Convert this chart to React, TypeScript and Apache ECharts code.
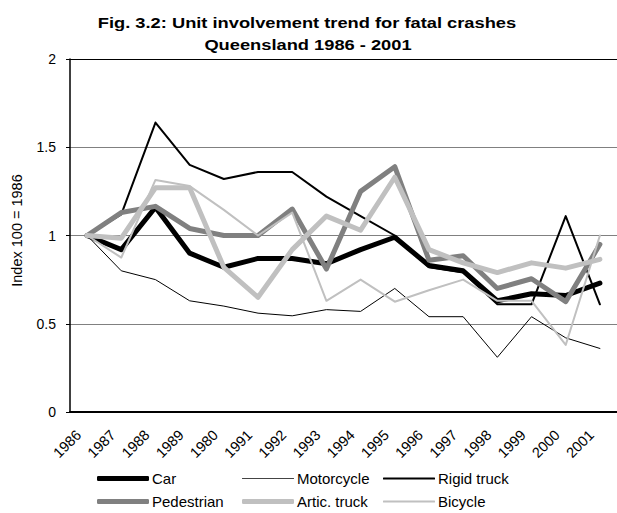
import React, { useEffect, useRef } from "react";
import * as echarts from "echarts";

const years = ["1986","1987","1988","1989","1980","1991","1992","1993","1994","1995","1996","1997","1998","1999","2000","2001"];
const car =        [1, 0.92, 1.16, 0.90, 0.82, 0.87, 0.87, 0.84, 0.92, 0.99, 0.83, 0.80, 0.63, 0.67, 0.66, 0.73];
const motorcycle = [1, 0.80, 0.75, 0.63, 0.60, 0.56, 0.545, 0.58, 0.57, 0.70, 0.54, 0.54, 0.31, 0.54, 0.42, 0.36];
const rigidTruck = [1, 1.12, 1.64, 1.40, 1.32, 1.36, 1.36, 1.22, 1.11, 1.00, 0.82, 0.79, 0.61, 0.61, 1.11, 0.61];
const pedestrian = [1, 1.13, 1.165, 1.04, 1.0, 1.0, 1.15, 0.81, 1.25, 1.39, 0.86, 0.885, 0.70, 0.755, 0.625, 0.95];
const articTruck = [1, 0.985, 1.27, 1.27, 0.82, 0.65, 0.92, 1.11, 1.03, 1.33, 0.92, 0.845, 0.79, 0.845, 0.815, 0.865];
const bicycle =    [1, 0.875, 1.315, 1.28, 1.145, 1.0, 1.13, 0.63, 0.75, 0.625, 0.69, 0.75, 0.63, 0.63, 0.38, 1.0];
const yTicks = [0, 0.5, 1, 1.5, 2];
const titleLines = ["Fig. 3.2: Unit involvement trend for fatal crashes", "Queensland 1986 - 2001"];

const FONT = "'Liberation Sans', Arial, sans-serif";

export default function App() {
  const ref = useRef<HTMLDivElement>(null);
  useEffect(() => {
    if (!ref.current) return;
    const chart = echarts.init(ref.current, null, { renderer: "svg" });
    const mk = (name: string, data: number[], color: string, width: number) => ({
      name,
      type: "line",
      data,
      symbol: "none",
      showSymbol: false,
      lineStyle: { color, width, cap: "round", join: "round" },
      itemStyle: { color },
    });
    const seriesDefs = [
      mk("Car", car, "#000000", 5),
      mk("Motorcycle", motorcycle, "#000000", 1),
      mk("Rigid truck", rigidTruck, "#000000", 2),
      mk("Pedestrian", pedestrian, "#808080", 5),
      mk("Artic. truck", articTruck, "#c0c0c0", 5),
      mk("Bicycle", bicycle, "#c0c0c0", 2),
    ];
    const legendPos = [
      [97, 480], [242, 480], [383, 480],
      [97, 503], [242, 503], [383, 503],
    ];
    const legends = seriesDefs.map((s, i) => {
      const w = s.lineStyle.width;
      const iconColor = s.name === "Motorcycle" ? "#444444" : s.lineStyle.color;
      return {
        data: [s.name],
        left: legendPos[i][0],
        top: legendPos[i][1] - 9,
        height: 18,
        itemWidth: 52,
        itemHeight: Math.max(w, 1),
        icon: "roundRect",
        itemStyle: { color: iconColor, borderWidth: 0 },
        lineStyle: { width: 0 },
        padding: 0,
        textStyle: { fontFamily: FONT, fontSize: 15, color: "#000", padding: [0, 0, 0, -2] },
        selectedMode: false,
      };
    });
    chart.setOption({
      animation: false,
      backgroundColor: "#ffffff",
      graphic: [
        {
          type: "text",
          x: 307,
          y: 23,
          scaleX: 1.18,
          style: { text: titleLines[0], fontFamily: FONT, fontSize: 15.5, fontWeight: "bold", fill: "#000", textAlign: "center", textVerticalAlign: "middle" },
        },
        {
          type: "text",
          x: 308,
          y: 44.5,
          scaleX: 1.18,
          style: { text: titleLines[1], fontFamily: FONT, fontSize: 15.5, fontWeight: "bold", fill: "#000", textAlign: "center", textVerticalAlign: "middle" },
        },
      ],
      legend: legends,
      grid: { left: 70, right: -8, top: 59, bottom: 101, containLabel: false },
      xAxis: {
        type: "category",
        data: years,
        boundaryGap: true,
        axisLine: { lineStyle: { color: "#000", width: 2 } },
        axisTick: { inside: true, length: 5, lineStyle: { color: "#000", width: 1 } },
        axisLabel: { rotate: 45, margin: 12, padding: [0, 12, 0, 0], fontFamily: FONT, fontSize: 14.5, color: "#000", interval: 0 },
        splitLine: { show: false },
      },
      yAxis: {
        type: "value",
        min: yTicks[0],
        max: yTicks[yTicks.length - 1],
        interval: 0.5,
        name: "Index 100 = 1986",
        nameLocation: "middle",
        nameGap: 46,
        nameTextStyle: { fontFamily: FONT, fontSize: 14.5, color: "#000", padding: [0, 0, 0, 10] },
        axisLine: { show: true, lineStyle: { color: "#000", width: 1.5 } },
        axisTick: { show: true, inside: false, length: 4, lineStyle: { color: "#000" } },
        axisLabel: { margin: 14, fontFamily: FONT, fontSize: 14, color: "#000" },
        splitLine: { show: true, lineStyle: { color: ["#808080", "#808080", "#808080", "#808080", "#000000"], width: 1 } },
      },
      series: seriesDefs,
    });
    return () => chart.dispose();
  }, []);
  return <div ref={ref} style={{ position: "absolute", left: 0, top: 0, width: 617, height: 513 }} />;
}
